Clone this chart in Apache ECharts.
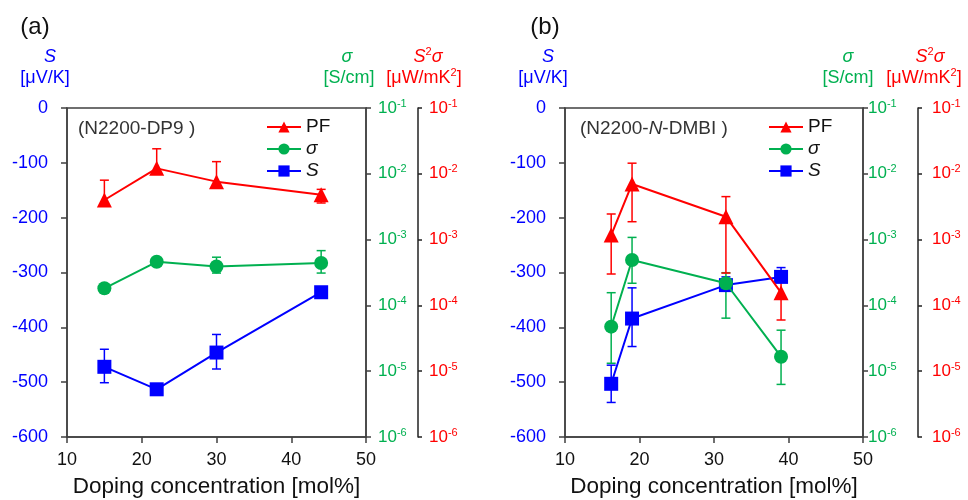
<!DOCTYPE html>
<html><head><meta charset="utf-8">
<script src="https://cdn.jsdelivr.net/npm/echarts@6/dist/echarts.min.js"></script>
<style>html,body{margin:0;padding:0;background:#fff}#c{width:968px;height:500px}</style>
</head><body><div id="c"></div><script>
// ---------- data ----------
const xRange = [10, 50];
const sRange = [-600, 0];
const logRange = [1e-6, 1e-1];
const seriesNames = ['PF', 'σ', 'S'];

// panel (a) N2200-DP9
const aDoping = [15, 22, 30, 44];
const aS = [-472, -513, -446, -336];
const aSHi = [-440, null, -413, null];
const aSLo = [-501, null, -476, null];
const aSigma = [1.82e-4, 4.6e-4, 3.9e-4, 4.4e-4];
const aSigmaHi = [null, null, 5.4e-4, 6.8e-4];
const aSigmaLo = [null, null, 3.1e-4, 3.1e-4];
const aPF = [4.0e-3, 1.21e-2, 7.6e-3, 4.8e-3];
const aPFHi = [8.0e-3, 2.4e-2, 1.53e-2, 5.8e-3];
const aPFLo = [null, null, null, 3.6e-3];

// panel (b) N2200-N-DMBI
const bDoping = [16.2, 19, 31.6, 39];
const bS = [-503, -384, -323, -308];
const bSHi = [-469, -328, -308, -291];
const bSLo = [-537, -435, null, null];
const bSigma = [4.75e-5, 4.9e-4, 2.17e-4, 1.66e-5];
const bSigmaHi = [1.56e-4, 1.08e-3, 3.14e-4, 4.2e-5];
const bSigmaLo = [1.32e-5, 2.17e-4, 6.4e-5, 6.3e-6];
const bPF = [1.17e-3, 7.0e-3, 2.23e-3, 1.56e-4];
const bPFHi = [2.45e-3, 1.45e-2, 4.5e-3, 3.0e-4];
const bPFLo = [3.0e-4, 1.87e-3, 3.1e-4, 6.0e-5];

// ---------- styling ----------
const FONT = '"Liberation Sans", Arial, sans-serif';
const BLUE = '#0000ff', GREEN = '#00b050', RED = '#ff0000', AX = '#404040';

function supRich(color) {
  return {
    b: {fontSize: 17, color: color, fontFamily: FONT, lineHeight: 20},
    s: {fontSize: 11, color: color, fontFamily: FONT, lineHeight: 11, verticalAlign: 'top'}
  };
}
function logFmt(v) {
  const e = Math.round(Math.log10(v));
  return '{b|10}{s|' + e + '}';
}

function errData(xs, ys, hi, lo) {
  return xs.map((x, i) => [x, hi[i] == null ? '-' : hi[i], lo[i] == null ? '-' : lo[i], ys[i]]);
}
function errRender(color) {
  return function (params, api) {
    const x = api.value(0), hi = api.value(1), lo = api.value(2), c = api.value(3);
    const pc = api.coord([x, c]);
    const st = {stroke: color, lineWidth: 1.5};
    const half = 4.5;
    const ch = [];
    [hi, lo].forEach(v => {
      if (v == null || isNaN(v)) return;
      const p = api.coord([x, v]);
      ch.push({type: 'line', shape: {x1: pc[0], y1: pc[1], x2: p[0], y2: p[1]}, style: st});
      ch.push({type: 'line', shape: {x1: p[0] - half, y1: p[1], x2: p[0] + half, y2: p[1]}, style: st});
    });
    return {type: 'group', children: ch};
  };
}

const grids = [
  {left: 67, right: 602, top: 108, bottom: 63},
  {left: 565, right: 105, top: 108, bottom: 63}
];
const greenMargin = [12, 5];
const redOffset = [52, 55];
const redMargin = [11, 14];

const xAxis = [], yAxis = [], series = [];
const panels = [
  {x: aDoping, S: aS, SHi: aSHi, SLo: aSLo, sig: aSigma, sigHi: aSigmaHi, sigLo: aSigmaLo, pf: aPF, pfHi: aPFHi, pfLo: aPFLo},
  {x: bDoping, S: bS, SHi: bSHi, SLo: bSLo, sig: bSigma, sigHi: bSigmaHi, sigLo: bSigmaLo, pf: bPF, pfHi: bPFHi, pfLo: bPFLo}
];

panels.forEach((p, gi) => {
  xAxis.push({
    gridIndex: gi, type: 'value', min: xRange[0], max: xRange[1], interval: 10,
    axisLine: {show: true, onZero: false, lineStyle: {color: AX, width: 1.5}},
    axisTick: {show: true, inside: false, length: 6, lineStyle: {color: AX, width: 1.5}},
    axisLabel: {color: '#111', fontSize: 18, fontFamily: FONT, margin: 14},
    splitLine: {show: false},
    name: 'Doping concentration [mol%]', nameLocation: 'middle', nameGap: 38,
    nameTextStyle: {color: '#111', fontSize: 22.5, fontFamily: FONT}
  });
  yAxis.push({
    gridIndex: gi, type: 'value', min: sRange[0], max: sRange[1], interval: 100, position: 'left',
    axisLine: {show: true, onZero: false, lineStyle: {color: AX, width: 1.5}},
    axisTick: {show: true, inside: false, length: 6, lineStyle: {color: AX, width: 1.5}},
    axisLabel: {color: BLUE, fontSize: 18, fontFamily: FONT, margin: 19},
    splitLine: {show: false}
  });
  yAxis.push({
    gridIndex: gi, type: 'log', logBase: 10, min: logRange[0], max: logRange[1], position: 'right',
    axisLine: {show: true, lineStyle: {color: AX, width: 1.5}},
    axisTick: {show: true, inside: false, length: 5, lineStyle: {color: AX, width: 1.5}},
    axisLabel: {formatter: logFmt, rich: supRich(GREEN), margin: greenMargin[gi]},
    splitLine: {show: false}, minorTick: {show: false}
  });
  yAxis.push({
    gridIndex: gi, type: 'log', logBase: 10, min: logRange[0], max: logRange[1], position: 'right', offset: redOffset[gi],
    axisLine: {show: true, lineStyle: {color: '#222', width: 1.5}},
    axisTick: {show: true, inside: false, length: 4, lineStyle: {color: '#222', width: 1.5}},
    axisLabel: {formatter: logFmt, rich: supRich(RED), margin: redMargin[gi]},
    splitLine: {show: false}, minorTick: {show: false}
  });
  const yS = gi * 3, yG = gi * 3 + 1, yR = gi * 3 + 2;
  const errSpec = [
    [p.S, p.SHi, p.SLo, yS, BLUE],
    [p.sig, p.sigHi, p.sigLo, yG, GREEN],
    [p.pf, p.pfHi, p.pfLo, yR, RED]
  ];
  errSpec.forEach(([ys, hi, lo, yi, col]) => {
    series.push({
      type: 'custom', xAxisIndex: gi, yAxisIndex: yi, z: 2, silent: true,
      renderItem: errRender(col), data: errData(p.x, ys, hi, lo),
      encode: {x: 0, y: [1, 2, 3]}
    });
  });
  series.push({
    name: 'S', type: 'line', xAxisIndex: gi, yAxisIndex: yS, z: 3,
    data: p.x.map((x, i) => [x, p.S[i]]), symbol: 'rect', symbolSize: 14,
    itemStyle: {color: BLUE}, lineStyle: {color: BLUE, width: 2}
  });
  series.push({
    name: 'σ', type: 'line', xAxisIndex: gi, yAxisIndex: yG, z: 4,
    data: p.x.map((x, i) => [x, p.sig[i]]), symbol: 'circle', symbolSize: 14,
    itemStyle: {color: GREEN}, lineStyle: {color: GREEN, width: 2}
  });
  series.push({
    name: 'PF', type: 'line', xAxisIndex: gi, yAxisIndex: yR, z: 5,
    data: p.x.map((x, i) => [x, p.pf[i]]), symbol: 'triangle', symbolSize: 15,
    itemStyle: {color: RED}, lineStyle: {color: RED, width: 2}
  });
});

function legendCfg(left) {
  return {
    left: left, top: 117, orient: 'vertical', itemWidth: 34, itemHeight: 14, itemGap: 2, padding: 0,
    data: seriesNames, selectedMode: false,
    formatter: n => n === 'PF' ? '{r|PF}' : '{i|' + n + '}',
    textStyle: {color: '#111', fontSize: 19, fontFamily: FONT, lineHeight: 20,
      rich: {r: {fontSize: 19, fontFamily: FONT, color: '#111', lineHeight: 20}, i: {fontSize: 19, fontFamily: FONT, color: '#111', fontStyle: 'italic', lineHeight: 20}}}
  };
}

function txt(x, y, text, color, size, italic, align) {
  return {type: 'text', x: x, y: y, silent: true,
    style: {text: text, fill: color, font: (italic ? 'italic ' : '') + size + 'px ' + FONT,
      align: align || 'center', verticalAlign: 'middle'}};
}
function richTxt(x, y, text, color, align) {
  return {type: 'text', x: x, y: y, silent: true,
    style: {text: text, fill: color, align: align || 'center', verticalAlign: 'middle',
      font: '18px ' + FONT,
      rich: {
        a: {fontSize: 18, fontFamily: FONT, fill: color, lineHeight: 22},
        i: {fontSize: 18, fontFamily: FONT, fill: color, fontStyle: 'italic', lineHeight: 22},
        g: {fontSize: 19, fontFamily: FONT, fill: '#333', lineHeight: 22},
        gi: {fontSize: 19, fontFamily: FONT, fill: '#333', fontStyle: 'italic', lineHeight: 22},
        s: {fontSize: 11, fontFamily: FONT, fill: color, verticalAlign: 'top', lineHeight: 12}
      }}};
}

const graphic = [
  txt(35, 27, '(a)', '#111', 24),
  txt(50, 57, 'S', BLUE, 18, true),
  txt(45, 78, '[μV/K]', BLUE, 18),
  txt(347, 57, 'σ', GREEN, 18, true),
  txt(349, 78, '[S/cm]', GREEN, 18),
  richTxt(428, 57, '{i|S}{s|2}{i|σ}', RED),
  richTxt(424, 78, '{a|[μW/mK}{s|2}{a|]}', RED),
  richTxt(78, 129, '{g|(N2200-DP9 )}', '#333', 'left'),

  txt(545, 27, '(b)', '#111', 24),
  txt(548, 57, 'S', BLUE, 18, true),
  txt(543, 78, '[μV/K]', BLUE, 18),
  txt(848, 57, 'σ', GREEN, 18, true),
  txt(848, 78, '[S/cm]', GREEN, 18),
  richTxt(930, 57, '{i|S}{s|2}{i|σ}', RED),
  richTxt(924, 78, '{a|[μW/mK}{s|2}{a|]}', RED),
  richTxt(580, 129, '{g|(N2200-}{gi|N}{g|-DMBI )}', '#333', 'left')
];

const chart = echarts.init(document.getElementById('c'), null, {renderer: 'canvas'});
chart.setOption({
  animation: false,
  backgroundColor: '#fff',
  grid: grids.map(g => Object.assign({show: true, borderColor: AX, borderWidth: 1.5, backgroundColor: 'transparent',
    containLabel: false, outerBoundsMode: 'none'}, g)),
  xAxis: xAxis,
  yAxis: yAxis,
  legend: [legendCfg(266), legendCfg(768)],
  graphic: graphic,
  series: series
});
</script></body></html>
